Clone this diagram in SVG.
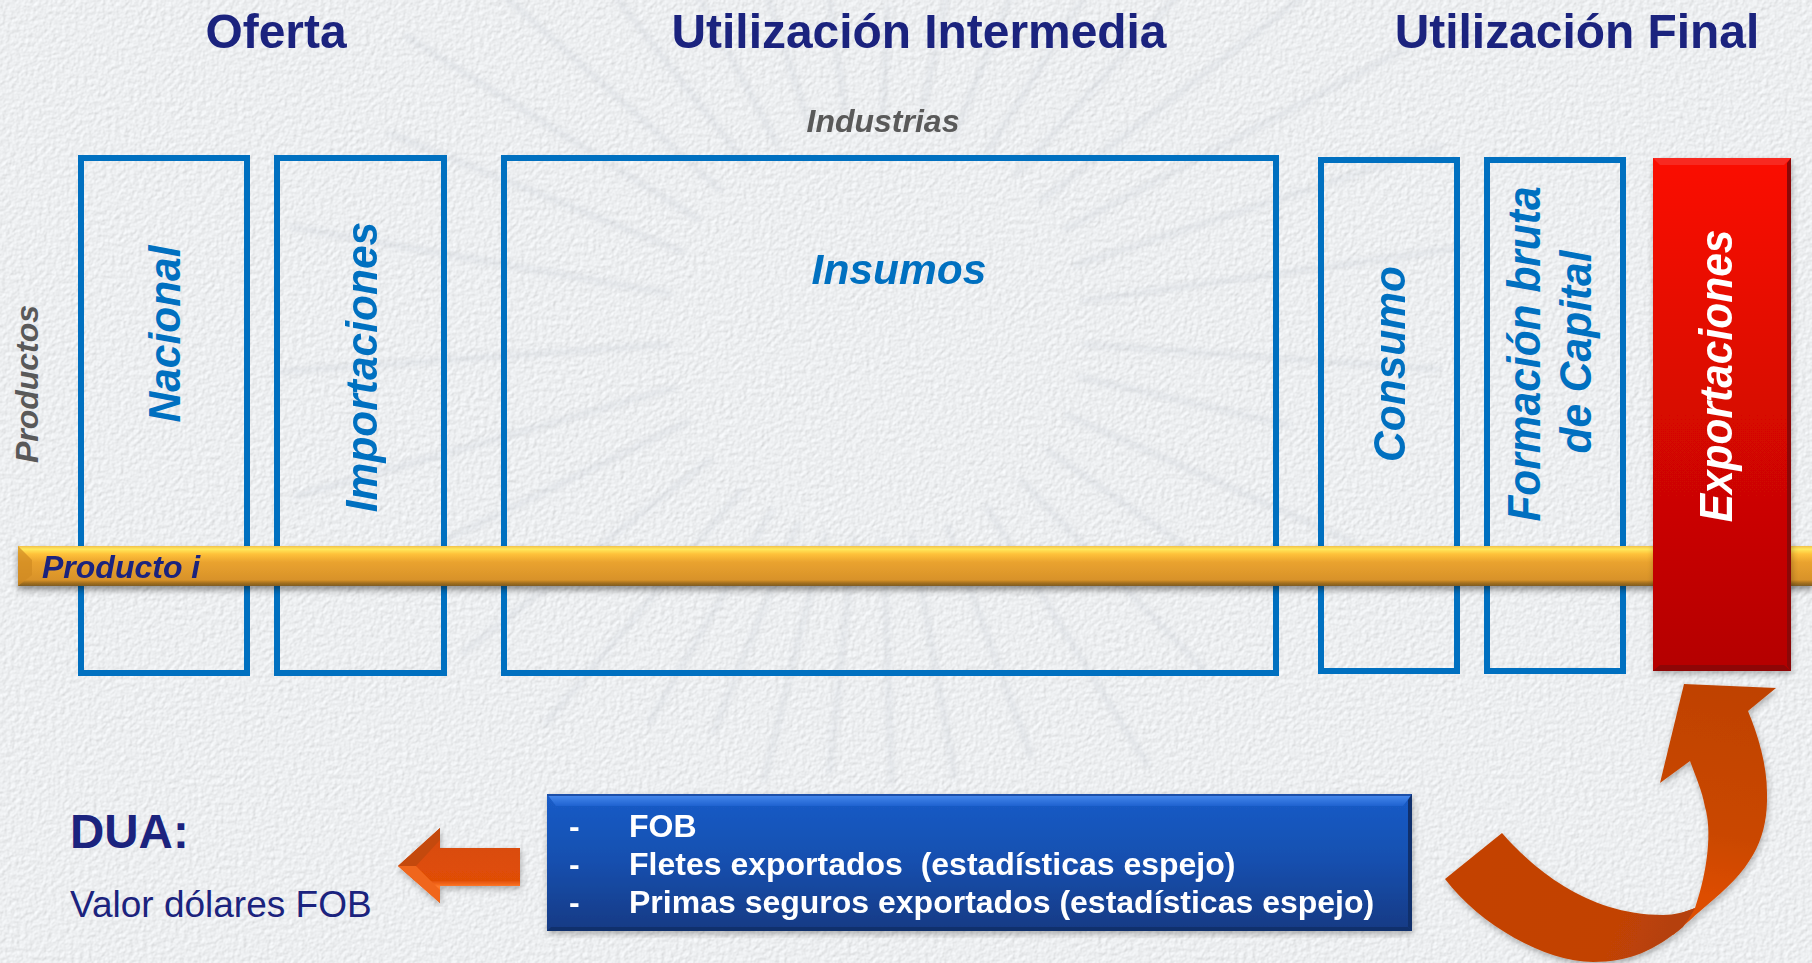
<svg xmlns="http://www.w3.org/2000/svg" width="1812" height="963" viewBox="0 0 1812 963">
<style>
text{font-family:"Liberation Sans",Arial,sans-serif}
.h{font-size:47.9px;font-weight:700;fill:#1b237e;text-anchor:middle}
.v{font-size:42.5px;font-weight:700;font-style:italic;fill:#0070c0;text-anchor:middle}
.g{font-size:32px;font-weight:700;font-style:italic;fill:#595959;text-anchor:middle}
.b{fill:none;stroke:#0070c0;stroke-width:6}
.w{font-size:32px;font-weight:700;fill:#fff}
.ray{stroke:#c2c8d0;stroke-width:4.5;stroke-linecap:round;fill:none}
</style>
<defs>
<filter id="paper" x="0" y="0" width="100%" height="100%" color-interpolation-filters="sRGB">
<feTurbulence type="fractalNoise" baseFrequency="0.22" numOctaves="3" seed="7" result="n"/>
<feDiffuseLighting in="n" surfaceScale="0.42" diffuseConstant="1.05" lighting-color="#f3f5f7"><feDistantLight azimuth="225" elevation="68"/></feDiffuseLighting>
</filter>
<filter id="blur" x="-5%" y="-5%" width="110%" height="110%"><feGaussianBlur stdDeviation="2.4"/></filter>
<filter id="sh" x="-5%" y="-20%" width="110%" height="150%"><feDropShadow dx="0" dy="4" stdDeviation="3" flood-color="#000" flood-opacity=".4"/></filter>
<filter id="sh2" x="-5%" y="-5%" width="110%" height="110%"><feDropShadow dx="1" dy="3" stdDeviation="3" flood-color="#000" flood-opacity=".28"/></filter>
<linearGradient id="barG" x1="0" y1="0" x2="0" y2="1">
<stop offset="0" stop-color="#f2c04a"/><stop offset=".08" stop-color="#ffe95c"/><stop offset=".2" stop-color="#ffc23a"/><stop offset=".4" stop-color="#eaa32f"/><stop offset=".85" stop-color="#d8922a"/><stop offset=".92" stop-color="#a8721f"/><stop offset="1" stop-color="#7d5a20"/>
</linearGradient>
<linearGradient id="redG" x1="0" y1="0" x2="0" y2="1"><stop offset="0" stop-color="#fb0a06"/><stop offset="1" stop-color="#b40404"/></linearGradient>
<linearGradient id="blueG" x1="0" y1="0" x2="0" y2="1"><stop offset="0" stop-color="#1a5cc8"/><stop offset=".5" stop-color="#164fae"/><stop offset="1" stop-color="#123a84"/></linearGradient>
<linearGradient id="blueT" x1="0" y1="0" x2="0" y2="1"><stop offset="0" stop-color="#4a8cf0"/><stop offset="1" stop-color="#1f62d0"/></linearGradient>
<linearGradient id="ah" x1="0" y1="0" x2="0" y2="1"><stop offset="0" stop-color="#a8481a"/><stop offset=".12" stop-color="#d84c0a"/><stop offset=".7" stop-color="#e04d06"/><stop offset=".78" stop-color="#ff7a2c"/><stop offset=".95" stop-color="#f06a20"/><stop offset="1" stop-color="#9c4a1c"/></linearGradient>
<linearGradient id="headG" x1="0.6" y1="0" x2="0.5" y2="1"><stop offset="0" stop-color="#bf4206"/><stop offset=".6" stop-color="#ca4706"/><stop offset=".85" stop-color="#dd4d06"/></linearGradient>
<linearGradient id="tailG" x1="0" y1="0" x2="1" y2="0.2"><stop offset="0" stop-color="#c44306"/><stop offset=".8" stop-color="#c24306"/><stop offset="1" stop-color="#b54108"/></linearGradient>
</defs>

<g id="background">
<rect width="1812" height="963" fill="#eff1f3" filter="url(#paper)"/>
<g filter="url(#blur)" opacity=".33" class="ray">
<line x1="1085" y1="330" x2="1466" y2="330" transform="rotate(-8 876 330)"/>
<line x1="1085" y1="330" x2="1440" y2="330" transform="rotate(4 876 330)"/>
<line x1="1085" y1="330" x2="1470" y2="330" transform="rotate(-18 876 330)"/>
<line x1="1085" y1="330" x2="1300" y2="330" transform="rotate(13 876 330)"/>
<line x1="1085" y1="330" x2="1400" y2="330" transform="rotate(24 876 330)"/>
<line x1="1090" y1="330" x2="1500" y2="330" transform="rotate(-28 876 330)"/>
<line x1="1085" y1="330" x2="1460" y2="330" transform="rotate(-38 876 330)"/>
<line x1="1085" y1="330" x2="1300" y2="330" transform="rotate(35 876 330)"/>
<line x1="1085" y1="330" x2="1330" y2="330" transform="rotate(-48 876 330)"/>
<line x1="1085" y1="330" x2="1350" y2="330" transform="rotate(46 876 330)"/>
<line x1="1085" y1="330" x2="1290" y2="330" transform="rotate(-58 876 330)"/>
<line x1="1085" y1="330" x2="1390" y2="330" transform="rotate(58 876 330)"/>
<line x1="1085" y1="330" x2="1260" y2="330" transform="rotate(-68 876 330)"/>
<line x1="1085" y1="330" x2="1330" y2="330" transform="rotate(70 876 330)"/>
<line x1="1085" y1="330" x2="1260" y2="330" transform="rotate(-78 876 330)"/>
<line x1="1085" y1="330" x2="1330" y2="330" transform="rotate(80 876 330)"/>
<line x1="1085" y1="330" x2="1200" y2="330" transform="rotate(-88 876 330)"/>
<line x1="1085" y1="330" x2="1330" y2="330" transform="rotate(88 876 330)"/>
<line x1="1085" y1="330" x2="1260" y2="330" transform="rotate(-98 876 330)"/>
<line x1="1085" y1="330" x2="1320" y2="330" transform="rotate(96 876 330)"/>
<line x1="1085" y1="330" x2="1260" y2="330" transform="rotate(-108 876 330)"/>
<line x1="1085" y1="330" x2="1340" y2="330" transform="rotate(104 876 330)"/>
<line x1="1085" y1="330" x2="1300" y2="330" transform="rotate(-118 876 330)"/>
<line x1="1085" y1="330" x2="1310" y2="330" transform="rotate(112 876 330)"/>
<line x1="1085" y1="330" x2="1320" y2="330" transform="rotate(-128 876 330)"/>
<line x1="1085" y1="330" x2="1330" y2="330" transform="rotate(120 876 330)"/>
<line x1="1085" y1="330" x2="1400" y2="330" transform="rotate(-138 876 330)"/>
<line x1="1085" y1="330" x2="1390" y2="330" transform="rotate(130 876 330)"/>
<line x1="1085" y1="330" x2="1430" y2="330" transform="rotate(-148 876 330)"/>
<line x1="1085" y1="330" x2="1400" y2="330" transform="rotate(142 876 330)"/>
<line x1="1085" y1="330" x2="1400" y2="330" transform="rotate(-158 876 330)"/>
<line x1="1085" y1="330" x2="1460" y2="330" transform="rotate(154 876 330)"/>
<line x1="1085" y1="330" x2="1470" y2="330" transform="rotate(-170 876 330)"/>
<line x1="1085" y1="330" x2="1480" y2="330" transform="rotate(176 876 330)"/>
<line x1="1085" y1="330" x2="1480" y2="330" transform="rotate(164 876 330)"/>
</g>
</g>

<g id="titles">
<text class="h" x="276" y="48">Oferta</text>
<text class="h" x="919" y="48">Utilización Intermedia</text>
<text class="h" x="1577" y="48">Utilización Final</text>
<text class="g" x="883" y="132">Industrias</text>
<text class="g" transform="translate(38 384) rotate(-90)">Productos</text>
</g>

<g id="nacional"><rect class="b" x="81" y="158" width="166" height="515"/><text class="v" transform="translate(180 334) rotate(-90) scale(1 1.05)">Nacional</text></g>
<g id="importaciones"><rect class="b" x="277" y="158" width="167" height="515"/><text class="v" transform="translate(377 367) rotate(-90) scale(1 1.06)">Importaciones</text></g>
<g id="insumos"><rect class="b" x="504" y="158" width="772" height="515"/><text class="v" x="899" y="284">Insumos</text></g>
<g id="consumo"><rect class="b" x="1321" y="160" width="136" height="511"/><text class="v" transform="translate(1405 364) rotate(-90) scale(1 1.05)">Consumo</text></g>
<g id="formacion"><rect class="b" x="1487" y="160" width="136" height="511"/><text class="v" transform="translate(1540 354) rotate(-90) scale(1 1.07)">Formación bruta</text><text class="v" transform="translate(1591 352) rotate(-90) scale(1 1.05)">de Capital</text></g>

<g id="producto-i">
<rect x="18" y="546" width="1794" height="40" fill="url(#barG)" filter="url(#sh)"/>
<polygon points="18,546 32,560 32,575 18,586" fill="#d08a22" opacity=".7"/>
<text x="42" y="578" font-size="32" font-weight="700" font-style="italic" fill="#1b237e">Producto i</text>
</g>

<g id="exportaciones">
<rect x="1653" y="158" width="138" height="513" fill="url(#redG)" filter="url(#sh2)"/>
<polygon points="1653,158 1791,158 1784,165 1660,165" fill="#f6413a" opacity=".55"/>
<polygon points="1653,671 1791,671 1784,665 1660,665" fill="#8e0606"/>
<polygon points="1791,158 1791,671 1787,666 1787,163" fill="#8a0808"/>
<text class="v" style="fill:#fff" transform="translate(1732 376) rotate(-90) scale(1 1.1)">Exportaciones</text>
</g>

<g id="dua">
<text x="70" y="848" font-size="47.5" font-weight="700" fill="#1b237e">DUA:</text>
<text x="70" y="917" font-size="37" fill="#1b237e">Valor dólares FOB</text>
</g>

<g id="componentes">
<rect x="547" y="794" width="865" height="137" fill="url(#blueG)" filter="url(#sh2)"/>
<polygon points="547,794 1412,794 1403,806 556,806" fill="url(#blueT)"/>
<polygon points="547,794 1412,794 1412,796 547,796" fill="#1c4fa8"/>
<polygon points="1412,794 1412,931 1408,927 1408,800" fill="#10306c"/>
<polygon points="547,931 1412,931 1408,927 551,927" fill="#10306c"/>
<text class="w" x="569" y="837">-</text><text class="w" x="629" y="837">FOB</text>
<text class="w" x="569" y="875">-</text><text class="w" x="629" y="875" xml:space="preserve">Fletes exportados  (estadísticas espejo)</text>
<text class="w" x="569" y="913">-</text><text class="w" x="629" y="913">Primas seguros exportados (estadísticas espejo)</text>
</g>

<g id="connectors">
<g id="flecha-dua" filter="url(#sh2)">
<polygon points="520,848 440,848 440,828 398,866 440,903 440,886 520,886" fill="url(#ah)"/>
<polygon points="398,866 440,828 440,840 416,866" fill="#c4480e"/>
<polygon points="398,866 416,866 440,890 440,903" fill="#f0661c"/>
</g>
<g id="flecha-exportaciones" filter="url(#sh2)">
<path d="M1684,684 L1776,688 L1748,711 C1758,735 1767,765 1767,793 C1768,835 1755,865 1713,900 C1695,915 1685,925 1673,935 L1650,925 L1695,908 C1708,870 1712,830 1705,807 C1702,790 1695,775 1690,761 L1660,783 Z" fill="url(#headG)"/>
<path d="M1445,879 L1502,833 C1530,865 1585,915 1663,915 C1675,915 1685,912 1695,908 C1690,918 1686,922 1683,927 C1655,950 1630,962 1593,962 C1545,962 1480,925 1445,879 Z" fill="url(#tailG)"/>
</g>
</g>
</svg>
